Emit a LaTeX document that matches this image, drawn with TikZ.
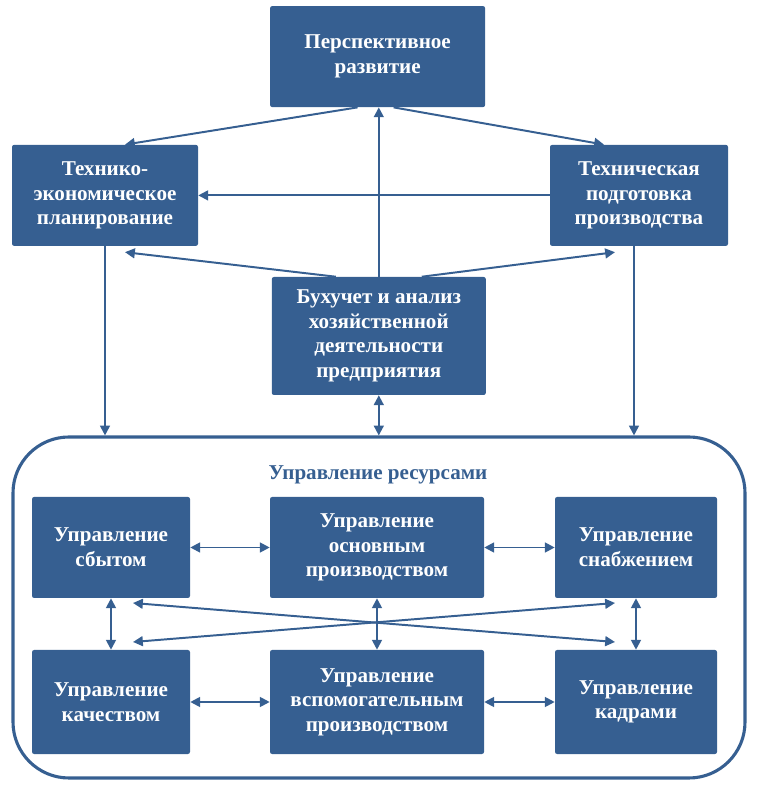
\documentclass[tikz,border=0pt]{standalone}
\usepackage{fontspec}
\setmainfont{Liberation Serif}
\usepackage{tikz}
\usetikzlibrary{arrows.meta}
\definecolor{boxblue}{HTML}{365F91}
\tikzstyle{unit}=[shape=rectangle,fill=boxblue,rounded corners=1.5pt,text=white,align=center,inner sep=0pt,font=\bfseries\fontsize{15}{17.5}\selectfont]
\tikzstyle{group}=[shape=rectangle,draw=boxblue,line width=2.2pt,rounded corners=1.4cm,inner sep=0pt]
\tikzstyle{link}=[draw=boxblue,line width=1.4pt,-{Triangle[length=7pt,width=7pt]}]
\tikzstyle{twoway}=[draw=boxblue,line width=1.4pt,{Triangle[length=7pt,width=7pt]}-{Triangle[length=7pt,width=7pt]}]

\begin{document}
\begin{tikzpicture}[]

		\useasboundingbox (0,0) rectangle (18.9,19.825);

		% upper blocks
		\node[unit,minimum width=5.375cm,minimum height=2.525cm] (persp) at (9.44,18.41) {Перспективное\\развитие};
		\node[unit,minimum width=4.65cm,minimum height=2.525cm] (plan) at (2.625,14.94) {Технико-\\экономическое\\планирование};
		\node[unit,minimum width=4.45cm,minimum height=2.525cm] (tech) at (15.975,14.94) {Техническая\\подготовка\\производства}
			edge [link] (plan);
		\node[unit,minimum width=5.35cm,minimum height=2.95cm] (buh) at (9.47,11.425) {Бухучет и анализ\\хозяйственной\\деятельности\\предприятия};

		% resources
		\node[group,minimum width=18.3cm,minimum height=8.525cm] (res) at (9.475,4.6375) {};
		\node[text=boxblue,font=\bfseries\fontsize{15}{17.5}\selectfont] (restitle) at (9.45,7.95) {Управление ресурсами};

		\node[unit,minimum width=3.95cm,minimum height=2.525cm] (sbyt) at (2.775,6.1375) {Управление\\сбытом};
		\node[unit,minimum width=5.35cm,minimum height=2.525cm] (osn) at (9.425,6.1375) {Управление\\основным\\производством}
			edge [twoway] (sbyt);
		\node[unit,minimum width=4.05cm,minimum height=2.525cm] (snab) at (15.9,6.1375) {Управление\\снабжением}
			edge [twoway] (osn);
		\node[unit,minimum width=3.95cm,minimum height=2.6cm] (kach) at (2.775,2.275) {Управление\\качеством}
			edge [twoway] (sbyt);
		\node[unit,minimum width=5.35cm,minimum height=2.6cm] (vspom) at (9.425,2.275) {Управление\\вспомогательным\\производством}
			edge [twoway] (kach)
			edge [twoway] (osn);
		\node[unit,minimum width=4.05cm,minimum height=2.6cm] (kadr) at (15.9,2.275) {Управление\\кадрами}
			edge [twoway] (vspom)
			edge [twoway] (snab);

		% crossing links
		\coordinate (cross1) at (3.325,4.75);
		\coordinate (cross2) at (15.375,3.775);
		\coordinate (cross3) at (3.325,3.775);
		\coordinate (cross4) at (15.375,4.75);
		\draw[twoway] (cross1) -- (cross2);
		\draw[twoway] (cross3) -- (cross4);

		% upper links
		\draw[link] ([xshift=-0.5cm]persp.south) -- ([xshift=0.5cm]plan.north);
		\draw[link] ([xshift=0.4cm]persp.south) -- ([xshift=-0.875cm]tech.north);
		\draw[link] (buh.north) -- (buh.north |- persp.south);
		\draw[link] ([xshift=-1.075cm]buh.north) -- ([xshift=0.5cm,yshift=-0.15cm]plan.south);
		\draw[link] ([xshift=1.075cm]buh.north) -- ([xshift=-0.6cm,yshift=-0.15cm]tech.south);
		\draw[link] (plan.south) -- (plan.south |- res.north);
		\draw[link] ([xshift=-0.125cm]tech.south) -- ([xshift=-0.125cm]tech.south |- res.north);
		\draw[twoway] (buh.south) -- (buh.south |- res.north);

		\end{tikzpicture}
\end{document}
